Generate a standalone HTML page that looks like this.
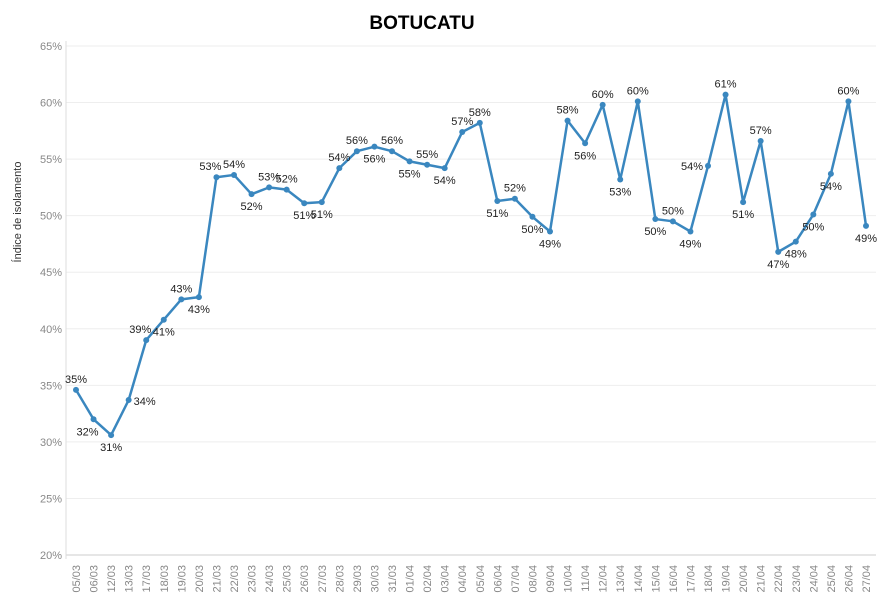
<!DOCTYPE html>
<html><head><meta charset="utf-8"><style>
body{margin:0;background:#fff;font-family:"Liberation Sans",sans-serif;}
svg text{font-family:"Liberation Sans",sans-serif;}
</style></head><body>
<svg id="chart" width="892" height="611" viewBox="0 0 892 611" xmlns="http://www.w3.org/2000/svg">
<text x="422" y="29" text-anchor="middle" font-size="19" font-weight="bold" fill="#000">BOTUCATU</text>
<text transform="translate(21,212) rotate(-90)" text-anchor="middle" font-size="11" fill="#333">Índice de isolamento</text>
<g id="grid"></g><g id="yticks"></g><g id="xticks"></g><g id="series"></g>
</svg>
<script>
const categories=["05/03","06/03","12/03","13/03","17/03","18/03","19/03","20/03","21/03","22/03","23/03","24/03","25/03","26/03","27/03","28/03","29/03","30/03","31/03","01/04","02/04","03/04","04/04","05/04","06/04","07/04","08/04","09/04","10/04","11/04","12/04","13/04","14/04","15/04","16/04","17/04","18/04","19/04","20/04","21/04","22/04","23/04","24/04","25/04","26/04","27/04"];
const values=[34.6,32.0,30.6,33.7,39.0,40.8,42.6,42.8,53.4,53.6,51.9,52.5,52.3,51.1,51.2,54.2,55.7,56.1,55.7,54.8,54.5,54.2,57.4,58.2,51.3,51.5,49.9,48.6,58.4,56.4,59.8,53.2,60.1,49.7,49.5,48.6,54.4,60.7,51.2,56.6,46.8,47.7,50.1,53.7,60.1,49.1];
const labelPos=["a","bl","b","r","al","b","a","b","al","a","b","a","a","b","b","a","a","b","a","b","a","b","a","a","b","a","b","b","a","b","a","b","a","b","a","b","l","a","b","a","b","b","b","b","a","b"];
const yTicks=[20,25,30,35,40,45,50,55,60,65];
const X0=76,X1=866,Y0=555,Y1=46,L=66,R=876;
const x=i=>X0+i*(X1-X0)/(categories.length-1);
const y=v=>Y0-(v-20)*(Y0-Y1)/45;
const NS="http://www.w3.org/2000/svg";
function mk(t,a,p){const e=document.createElementNS(NS,t);for(const k in a)e.setAttribute(k,a[k]);p.appendChild(e);return e;}
const g=document.getElementById('grid'),yt=document.getElementById('yticks'),xt=document.getElementById('xticks'),s=document.getElementById('series');
yTicks.forEach(v=>{
 const ln=mk('line',{x1:L,x2:R,y1:y(v),y2:y(v),stroke:v===20?'#ccc':'#eee','stroke-width':1},g);
 
 
 const t=mk('text',{x:62,y:y(v)+4,'text-anchor':'end','font-size':11,fill:'#888'},yt);
 t.textContent=v+'%';
 
 
});
mk('line',{x1:L,x2:L,y1:Y1-5,y2:Y0+4,stroke:'#ddd'},g);
categories.forEach((c,i)=>{
 const t=mk('text',{transform:`translate(${x(i)+4},${Y0+10}) rotate(-90)`,'text-anchor':'end','font-size':11,fill:'#888'},xt);
 t.textContent=c;
 
 
});
const pl=mk('polyline',{points:values.map((v,i)=>x(i)+','+y(v)).join(' '),fill:'none',stroke:'#3a87bf','stroke-width':2.5,'stroke-linejoin':'round'},s);


values.forEach((v,i)=>{
 const c=mk('circle',{cx:x(i),cy:y(v),r:3,fill:'#3a87bf'},s);
 
 
 const p=labelPos[i];let dx=0,dy=-7,an='middle';
 if(p==='b'){dy=16;}
 if(p==='bl'){dx=-6;dy=16;}
 if(p==='al'){dx=-6;}
 if(p==='r'){dx=5;dy=5;an='start';}
 if(p==='l'){dx=-5;dy=4;an='end';}
 const t=mk('text',{x:x(i)+dx,y:y(v)+dy,'text-anchor':an,'font-size':11,fill:'#222'},s);
 t.textContent=Math.round(v)+'%';
 
 
});
</script>
</body></html>
